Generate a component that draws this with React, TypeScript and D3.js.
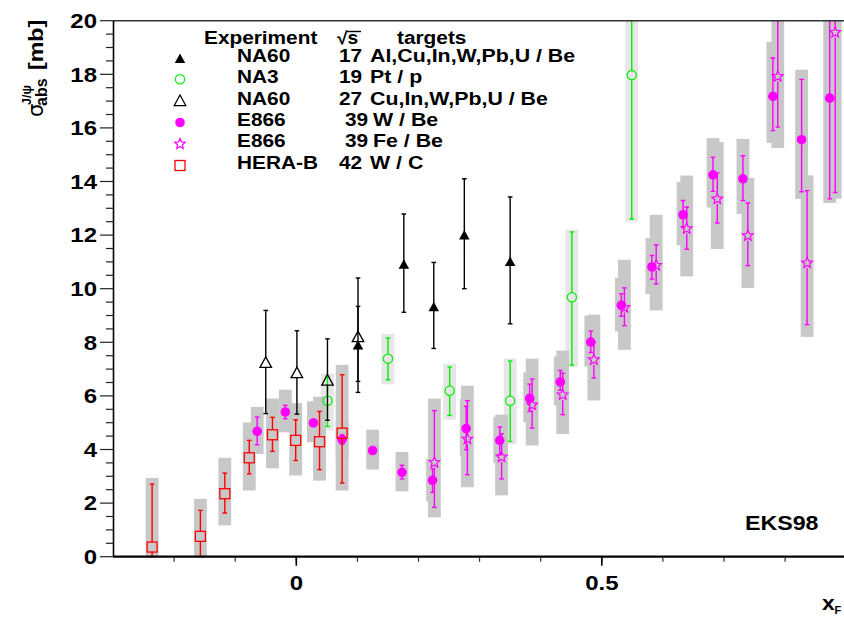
import React from "react";
import * as d3 from "d3";

// ---------------- data ----------------
const legendNames = ["NA60", "NA3", "NA60", "E866", "E866", "HERA-B"];
const legendSqrtS = ["17", "19", "27", "39", "39", "42"];
const legendTargets = ["Al,Cu,In,W,Pb,U / Be", "Pt / p", "Cu,In,W,Pb,U / Be", "W / Be", "Fe / Be", "W / C"];

const yTickValues = [0, 2, 4, 6, 8, 10, 12, 14, 16, 18, 20];
const xTickValues = [0, 0.5];
const xTickLabels = ["0", "0.5"];

// NA60 sqrt(s)=17 : [xF, sigma, errLo, errHi]
const na60s17 = [
  [0.101, 7.91, 6.54, 9.34],
  [0.176, 10.92, 9.12, 12.79],
  [0.225, 9.34, 7.77, 10.98],
  [0.275, 12.01, 10.0, 14.1],
  [0.35, 11.02, 8.69, 13.42],
];
// NA60 sqrt(s)=27
const na60s27 = [
  [-0.05, 7.26, 5.34, 9.19],
  [0.001, 6.88, 5.32, 8.43],
  [0.051, 6.6, 5.09, 8.13],
  [0.101, 8.22, 6.13, 10.4],
];
// NA3 : [xF, sigma, errLo, errHi, sysLo, sysHi]
const na3 = [
  [0.051, 5.82, 4.86, 6.73, 4.71, 6.83],
  [0.15, 7.39, 6.6, 8.16, 6.43, 8.31],
  [0.251, 6.19, 5.27, 7.08, 5.11, 7.2],
  [0.35, 5.82, 4.3, 7.3, 4.2, 7.39],
  [0.451, 9.68, 7.15, 12.12, 7.08, 12.2],
  [0.549, 17.97, 12.6, 21, 12.51, 21],
];
// E866 W/Be
const e866W = [
  [-0.064, 4.68, 4.18, 5.21, 3.83, 5.59],
  [-0.018, 5.4, 5.15, 5.65, 4.64, 6.23],
  [0.028, 4.99, 4.86, 5.12, 4.27, 5.8],
  [0.075, 4.37, 4.2, 4.55, 3.6, 5.1],
  [0.125, 3.96, 3.86, 4.06, 3.25, 4.74],
  [0.173, 3.15, 2.9, 3.41, 2.44, 3.91],
  [0.223, 2.85, 2.4, 3.27, 2.06, 3.66],
  [0.278, 4.78, 3.99, 5.61, 3.74, 5.88],
  [0.333, 4.34, 3.81, 4.84, 3.5, 5.21],
  [0.382, 5.91, 5.42, 6.44, 5.01, 6.88],
  [0.432, 6.52, 6.21, 6.95, 5.65, 7.47],
  [0.482, 8.01, 7.62, 8.42, 7.1, 8.99],
  [0.532, 9.38, 8.97, 9.81, 8.41, 10.4],
  [0.582, 10.81, 10.36, 11.24, 9.8, 11.89],
  [0.633, 12.76, 12.3, 13.29, 11.62, 13.98],
  [0.682, 14.25, 13.63, 14.91, 13.03, 15.62],
  [0.731, 14.1, 13.29, 14.96, 12.79, 15.59],
  [0.78, 17.18, 15.9, 18.61, 15.44, 19.21],
  [0.827, 15.56, 13.62, 17.81, 13.35, 18.17],
  [0.873, 17.11, 13.35, 21, 13.2, 21],
];
// E866 Fe/Be
const e866Fe = [
  [0.226, 3.52, 1.84, 5.45, 1.47, 5.9],
  [0.28, 4.39, 3.06, 5.82, 2.59, 6.38],
  [0.336, 3.72, 2.9, 4.59, 2.29, 5.3],
  [0.386, 5.66, 4.8, 6.63, 4.15, 7.39],
  [0.436, 6.04, 5.3, 6.85, 4.58, 7.69],
  [0.487, 7.35, 6.67, 8.0, 5.83, 9.03],
  [0.537, 9.3, 8.62, 10.03, 7.72, 11.08],
  [0.589, 10.87, 10.18, 11.64, 9.19, 12.76],
  [0.639, 12.24, 11.47, 13.05, 10.46, 14.22],
  [0.689, 13.35, 12.45, 14.32, 11.48, 15.47],
  [0.739, 11.98, 10.86, 13.2, 10.03, 14.13],
  [0.788, 17.92, 16.03, 21, 15.25, 21],
  [0.836, 10.96, 8.66, 13.66, 8.2, 14.23],
  [0.882, 19.56, 13.59, 21, 13.36, 21],
];
// HERA-B W/C
const heraB = [
  [-0.236, 0.36, 0, 2.71, 0, 2.94],
  [-0.157, 0.76, 0, 1.73, 0, 2.16],
  [-0.117, 2.35, 1.63, 3.12, 1.17, 3.69],
  [-0.077, 3.69, 3.09, 4.34, 2.47, 5.01],
  [-0.039, 4.55, 3.93, 5.2, 3.3, 5.9],
  [-0.001, 4.34, 3.59, 5.11, 3.03, 5.73],
  [0.038, 4.29, 3.25, 5.42, 2.84, 5.97],
  [0.075, 4.61, 2.75, 6.79, 2.47, 7.16],
];

// ---------------- layout / style ----------------
const W = 844;
const H = 618;
const FONT = "'Liberation Sans', Arial, Helvetica, sans-serif";
const PL = 113;
const PR = 846.2;
const PT = 20.7;
const PB = 556.7;

const x = d3.scaleLinear().domain([-0.3, 0.9]).range([PL, PR]);
const y = d3.scaleLinear().domain([0, 20]).range([PB, PT]);

const GREY = "#c8c8c8";
const LIGHT = "#e6e6e6";
const MAG = "#ff00ff";
const GREEN = "#00ee00";
const RED = "#ff0000";
const BOX_HW = 6.4;

function triPath(w: number, h: number) {
  return `M0,${-h / 2}L${w / 2},${h / 2}L${-w / 2},${h / 2}Z`;
}
function starPath(R: number) {
  const r = R * 0.45;
  const pts: string[] = [];
  for (let i = 0; i < 10; i++) {
    const a = -Math.PI / 2 + (i * Math.PI) / 5;
    const rad = i % 2 ? r : R;
    pts.push(`${(rad * Math.cos(a)).toFixed(2)},${(rad * Math.sin(a)).toFixed(2)}`);
  }
  return "M" + pts.join("L") + "Z";
}

type MarkerKind = "triFill" | "triOpen" | "circOpen" | "circFill" | "star" | "square";

function Marker({ kind, cx, cy, color }: { kind: MarkerKind; cx: number; cy: number; color: string }) {
  const t = `translate(${cx},${cy})`;
  switch (kind) {
    case "triFill":
      return <path transform={t} d={triPath(10.5, 9.5)} fill={color} />;
    case "triOpen":
      return <path transform={t} d={triPath(11.5, 10.5)} fill="none" stroke={color} strokeWidth={1.3} />;
    case "circOpen":
      return <circle cx={cx} cy={cy} r={4.6} fill="none" stroke={color} strokeWidth={1.3} />;
    case "circFill":
      return <circle cx={cx} cy={cy} r={4.8} fill={color} />;
    case "star":
      return <path transform={t} d={starPath(5.6)} fill="none" stroke={color} strokeWidth={1.2} />;
    case "square":
      return <rect x={cx - 5} y={cy - 5} width={10} height={10} fill="none" stroke={color} strokeWidth={1.3} />;
  }
  return null;
}

function ErrBar({ px, py, lo, hi, color, gap }: any) {
  const yl = y(lo);
  const yh = y(hi);
  const cap = 2.3;
  return (
    <g stroke={color} strokeWidth={1.4}>
      {yh < py - gap && <line x1={px} x2={px} y1={yh} y2={py - gap} />}
      {yl > py + gap && <line x1={px} x2={px} y1={py + gap} y2={yl} />}
      <line x1={px - cap} x2={px + cap} y1={yh} y2={yh} />
      <line x1={px - cap} x2={px + cap} y1={yl} y2={yl} />
    </g>
  );
}

function Boxes({ data, fill }: { data: number[][]; fill: string }) {
  return (
    <g>
      {data.map((d, i) => (
        <rect key={i} x={x(d[0]) - BOX_HW} width={BOX_HW * 2} y={y(d[5])} height={y(d[4]) - y(d[5])} fill={fill} />
      ))}
    </g>
  );
}

function Series({ data, kind, color, gap }: { data: number[][]; kind: MarkerKind; color: string; gap: number }) {
  return (
    <g>
      {data.map((d, i) => (
        <ErrBar key={"e" + i} px={x(d[0])} py={y(d[1])} lo={d[2]} hi={d[3]} color={color} gap={gap} />
      ))}
      {data.map((d, i) => (
        <Marker key={"m" + i} kind={kind} cx={x(d[0])} cy={y(d[1])} color={color} />
      ))}
    </g>
  );
}

function T({ x: tx, y: ty, size, sx = 1.18, anchor = "start", weight = "bold", children }: any) {
  return (
    <text
      transform={`translate(${tx},${ty}) scale(${sx},1)`}
      fontSize={size}
      fontWeight={weight}
      textAnchor={anchor}
      fontFamily={FONT}
      fill="#000"
    >
      {children}
    </text>
  );
}

const legendKinds: MarkerKind[] = ["triFill", "circOpen", "triOpen", "circFill", "star", "square"];
const legendColors = ["#000", GREEN, "#000", MAG, MAG, RED];
const legendMarkerY = [58.3, 79.2, 100.3, 122.5, 144.0, 165.5];
const legendBase = [62, 83.3, 104.7, 126, 147.3, 168.7];

export default function App() {
  const minorY = d3.range(0, 20.001, 0.5);
  const minorX = d3.range(-2, 9).map((k) => k / 10);
  return (
    <svg
      width={W}
      height={H}
      style={{ position: "absolute", left: 0, top: 0, background: "#fff" }}
      fontFamily={FONT}
    >
      <defs>
        <clipPath id="plotclip">
          <rect x={PL} y={PT} width={PR - PL} height={PB - PT + 1} />
        </clipPath>
      </defs>
      <rect x={0} y={0} width={W} height={H} fill="#fff" />

      <g clipPath="url(#plotclip)">
        <Boxes data={na3} fill={LIGHT} />
        <Boxes data={e866W} fill={GREY} />
        <Boxes data={e866Fe} fill={GREY} />
        <Boxes data={heraB} fill={GREY} />
        <Series data={e866W} kind="circFill" color={MAG} gap={0} />
        <Series data={e866Fe} kind="star" color={MAG} gap={5} />
        <Series data={heraB} kind="square" color={RED} gap={5} />
        <Series data={na3} kind="circOpen" color={GREEN} gap={4.6} />
        <Series data={na60s27} kind="triOpen" color="#000" gap={5} />
        <Series data={na60s17} kind="triFill" color="#000" gap={0} />
      </g>

      {/* frame */}
      <line x1={PL} x2={PR} y1={PT} y2={PT} stroke="#333" strokeWidth={1.5} />
      <line x1={PL + 0.5} x2={PL + 0.5} y1={PT} y2={PB} stroke="#000" strokeWidth={1.6} />
      <line x1={PL} x2={PR} y1={PB} y2={PB} stroke="#000" strokeWidth={2.2} />

      {/* y ticks */}
      {minorY.map((v, i) => {
        const major = Math.abs(v / 2 - Math.round(v / 2)) < 1e-6;
        return (
          <line key={i} x1={PL - (major ? 13 : 7)} x2={PL} y1={y(v)} y2={y(v)} stroke="#222" strokeWidth={1.2} />
        );
      })}
      {yTickValues.map((v) => (
        <T key={v} x={97} y={y(v) + 7.3} size={20} sx={1.2} anchor="end">
          {String(v)}
        </T>
      ))}

      {/* x ticks */}
      {minorX.map((v, i) => (
        <line key={i} x1={x(v)} x2={x(v)} y1={PB} y2={PB + 5} stroke="#222" strokeWidth={1.1} />
      ))}
      {xTickValues.map((v) => (
        <line key={"M" + v} x1={x(v)} x2={x(v)} y1={PB} y2={PB + 9} stroke="#000" strokeWidth={1.6} />
      ))}
      {xTickValues.map((v, i) => (
        <T key={"l" + v} x={x(v)} y={590} size={20} sx={1.2} anchor="middle">
          {xTickLabels[i]}
        </T>
      ))}

      {/* x axis title */}
      <T x={822} y={610} size={20} sx={1.15}>x</T>
      <T x={834.5} y={614} size={10.5} sx={1.05}>F</T>

      {/* y axis title */}
      <g transform="translate(43,117) rotate(-90)">
        <text x={0} y={0} fontSize={21} fontFamily="'DejaVu Sans', sans-serif">σ</text>
        <text x={11} y={4} fontSize={16} fontWeight="bold" fontFamily={FONT}>abs</text>
        <text x={12} y={-12} fontSize={12.5} fontWeight="bold" fontFamily={FONT}>J/ψ</text>
        <T x={47} y={0} size={20} sx={1.16}>[mb]</T>
      </g>

      {/* EKS98 */}
      <T x={745} y={530} size={20} sx={1.16}>EKS98</T>

      {/* legend */}
      <T x={204} y={44} size={17.5} sx={1.19}>Experiment</T>
      <T x={337} y={44} size={17.5} sx={1.1}>√s</T>
      <line x1={347} x2={361} y1={31.5} y2={31.5} stroke="#000" strokeWidth={1.4} />
      <T x={397} y={44} size={17.5} sx={1.19}>targets</T>
      {legendNames.map((n, i) => (
        <g key={i}>
          <Marker kind={legendKinds[i]} cx={180} cy={legendMarkerY[i]} color={legendColors[i]} />
          <T x={237} y={legendBase[i]} size={17.5} sx={1.19}>{n}</T>
          <T x={legendSqrtS[i] === "39" ? 345 : 339} y={legendBase[i]} size={17.5} sx={1.19}>
            {legendSqrtS[i]}
          </T>
          <T x={i === 3 || i === 4 ? 373 : 370} y={legendBase[i]} size={17.5} sx={1.22}>
            {legendTargets[i]}
          </T>
        </g>
      ))}
    </svg>
  );
}
